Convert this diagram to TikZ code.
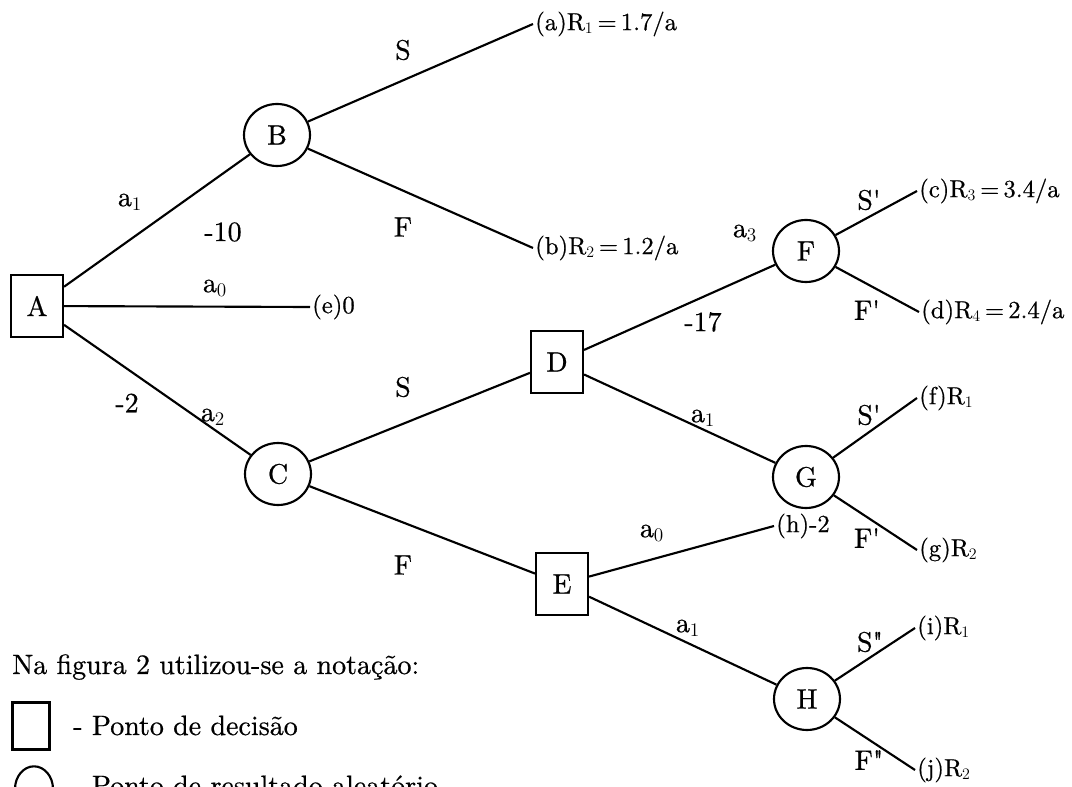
\documentclass[tikz,border=0pt]{standalone}
\usepackage{fontspec}
\setmainfont{lmroman10-regular.otf}[FakeBold=0.6]
\usetikzlibrary{shapes.geometric}

\tikzset{
    decision/.style={draw, line width=1.6pt, minimum width=39pt, minimum height=46.5pt, inner sep=0pt},
    chance/.style={draw, ellipse, line width=1.6pt, minimum width=49.5pt, minimum height=46.5pt, inner sep=0pt},
    result/.style={anchor=west, inner sep=1.5pt, font=\fontsize{18.5}{22}\selectfont},
    branch/.style={line width=1.6pt},
}

\begin{document}
\begin{tikzpicture}[x=0.75pt, y=-0.75pt, font=\fontsize{21}{25}\selectfont]

    \useasboundingbox (0,0) rectangle (1072,787);
    \clip (0,0) rectangle (1072,787);

    \node[decision] (A) at (37,306) {A};
    \node[chance] (B) at (277,135) {B};
    \node[chance] (C) at (278,474) {C};
    \node[decision] (D) at (557,362) {D};
    \node[decision] (E) at (562,584) {E};
    \node[chance] (F) at (806,251) {F};
    \node[chance] (G) at (806,477) {G};
    \node[chance] (H) at (807,699) {H};

    \node[result] (ra) at (533,24) {(a)R$_1$\,=\,1.7/a};
    \node[result] (rb) at (533,248) {(b)R$_2$\,=\,1.2/a};
    \node[result] (re) at (310,307) {(e)0};
    \node[result] (rc) at (917,191) {(c)R$_3$\,=\,3.4/a};
    \node[result] (rd) at (919,312) {(d)R$_4$\,=\,2.4/a};
    \node[result] (rf) at (917,398) {(f)R$_1$};
    \node[result] (rg) at (917,550) {(g)R$_2$};
    \node[result] (rh) at (774,526) {(h)-2};
    \node[result] (ri) at (915,628) {(i)R$_1$};
    \node[result] (rj) at (915,770) {(j)R$_2$};

    \draw[branch] (A) -- (B);
    \draw[branch] (A) -- (re.west);
    \draw[branch] (A) -- (C);
    \draw[branch] (B) -- (ra.west);
    \draw[branch] (B) -- (rb.west);
    \draw[branch] (C) -- (D);
    \draw[branch] (C) -- (E);
    \draw[branch] (D) -- (F);
    \draw[branch] (D) -- (G);
    \draw[branch] (E) -- (rh.west);
    \draw[branch] (E) -- (H);
    \draw[branch] (F) -- (rc.west);
    \draw[branch] (F) -- (rd.west);
    \draw[branch] (G) -- (rf.west);
    \draw[branch] (G) -- (rg.west);
    \draw[branch] (H) -- (ri.west);
    \draw[branch] (H) -- (rj.west);

    \node (lab-a1) at (130,202) {a$_1$};
    \node (lab-c10) at (223,232) {-10};
    \node (lab-a0) at (215,288) {a$_0$};
    \node (lab-c2) at (127,403) {-2};
    \node (lab-a2) at (213,417) {a$_2$};
    \node (lab-s) at (403,50) {S};
    \node (lab-f) at (403,227) {F};
    \node (lab-cs) at (403,387) {S};
    \node (lab-cf) at (403,565) {F};
    \node (lab-c17) at (703,322) {-17};
    \node (lab-a3) at (745,233) {a$_3$};
    \node (lab-da1) at (703,418) {a$_1$};
    \node (lab-ea0) at (652,533) {a$_0$};
    \node (lab-ea1) at (688,628) {a$_1$};
    \node (lab-fs) at (869,200) {S\textquotesingle};
    \node (lab-ff) at (867,310) {F\textquotesingle};
    \node (lab-gs) at (869,415) {S\textquotesingle};
    \node (lab-gf) at (867,538) {F\textquotesingle};
    \node (lab-hs) at (870,642) {S\textquotedbl};
    \node (lab-hf) at (869,760) {F\textquotedbl};

    \node[anchor=base west, inner sep=0pt] (key) at (12,674) {Na figura 2 utilizou-se a notação:};
    \node[decision, minimum width=27.75pt, minimum height=35.25pt] (keydecision) at (31,726) {};
    \node[anchor=base west, inner sep=0pt] (keydecisiontext) at (73,735) {- Ponto de decisão};
    \node[chance, minimum width=28.5pt, minimum height=34pt] (keychance) at (34,789) {};
    \node[anchor=base west, inner sep=0pt] (keychancetext) at (73,795) {- Ponto de resultado aleatório};

\end{tikzpicture}
\end{document}
